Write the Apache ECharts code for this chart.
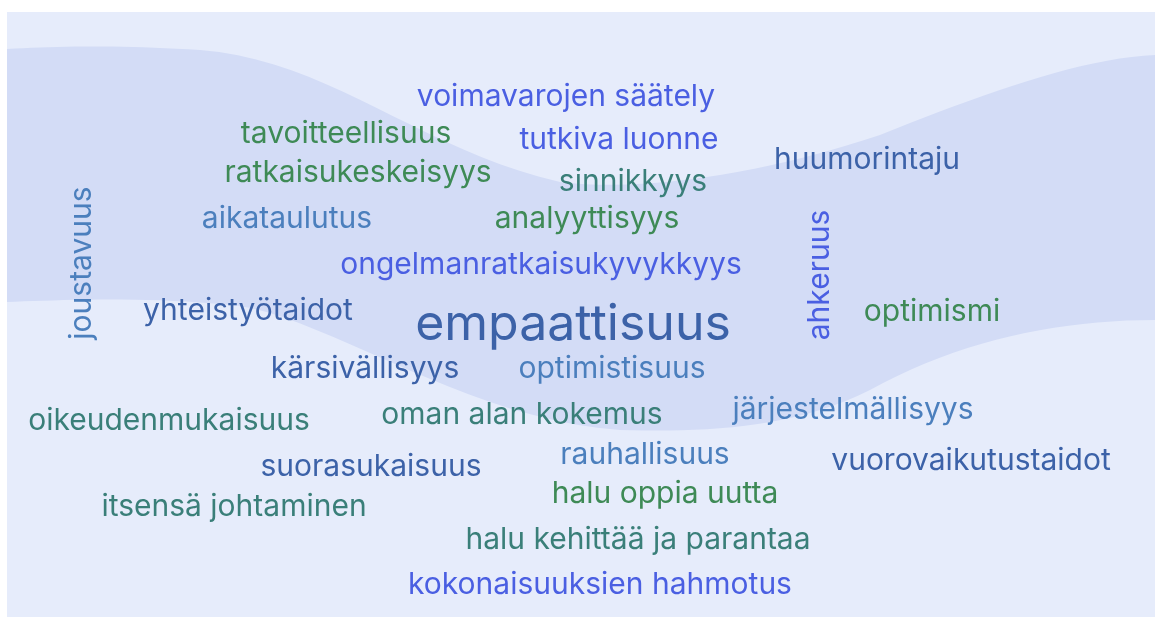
<!DOCTYPE html>
<html lang="fi">
<head>
<meta charset="UTF-8">
<title>Sanapilvi</title>
<script src="https://cdn.jsdelivr.net/npm/echarts@6/dist/echarts.min.js"></script>
<style>
  html, body { margin: 0; padding: 0; background: #fff; }
  #main { width: 1155px; height: 617px; }
</style>
</head>
<body>
<div id="main"></div>
<script>
// words and their weight (font size follows weight)
var words = [
  'voimavarojen säätely', 'tavoitteellisuus', 'tutkiva luonne', 'ratkaisukeskeisyys',
  'sinnikkyys', 'huumorintaju', 'joustavuus', 'aikataulutus', 'analyyttisyys',
  'ongelmanratkaisukyvykkyys', 'ahkeruus', 'yhteistyötaidot', 'empaattisuus',
  'optimismi', 'kärsivällisyys', 'optimistisuus', 'oikeudenmukaisuus',
  'oman alan kokemus', 'järjestelmällisyys', 'rauhallisuus', 'suorasukaisuus',
  'vuorovaikutustaidot', 'halu oppia uutta', 'itsensä johtaminen',
  'halu kehittää ja parantaa', 'kokonaisuuksien hahmotus'
];
var weights = [1, 1, 1, 1, 1, 1, 1, 1, 1, 1, 1, 1, 2, 1, 1, 1, 1, 1, 1, 1, 1, 1, 1, 1, 1, 1];
// colour group of each word
var groups = [0, 1, 0, 1, 2, 3, 4, 4, 1, 0, 0, 3, 3, 1, 3, 4, 2, 2, 4, 4, 3, 3, 1, 2, 2, 0];
// vertical words
var vertical = [0, 0, 0, 0, 0, 0, 1, 0, 0, 0, 1, 0, 0, 0, 0, 0, 0, 0, 0, 0, 0, 0, 0, 0, 0, 0];

// placement of the cloud (centre of each word)
var layoutX = [566, 346, 619, 358, 633, 867, 82, 287, 587, 541, 820, 248, 573,
  932, 365, 612, 169, 522, 853, 645, 371, 971, 665, 234, 638, 600];
var layoutY = [97, 134, 140, 173, 182, 160, 263, 219, 219, 265, 275, 311, 325,
  312, 369, 369, 421, 415, 410, 455, 467, 461, 494, 507, 540, 585];

var palette = ['#4a5fe2', '#3e8a56', '#3a7f79', '#3c62a8', '#4b7fbd'];

// background wave as cubic bezier segments, sampled to a polygon
function bez(p0, p1, p2, p3, pts) {
  for (var k = 1; k <= 20; k++) {
    var t = k / 20, u = 1 - t;
    pts.push([
      u * u * u * p0[0] + 3 * u * u * t * p1[0] + 3 * u * t * t * p2[0] + t * t * t * p3[0],
      u * u * u * p0[1] + 3 * u * u * t * p1[1] + 3 * u * t * t * p2[1] + t * t * t * p3[1]
    ]);
  }
}
var wave = [[7, 49]];
bez([7, 49], [60, 46], [120, 45], [200, 50], wave);
bez([200, 50], [330, 60], [420, 150], [560, 182], wave);
bez([560, 182], [640, 192], [760, 175], [880, 135], wave);
bez([880, 135], [980, 95], [1080, 58], [1155, 55], wave);
wave.push([1155, 320]);
bez([1155, 320], [1060, 320], [960, 340], [870, 390], wave);
bez([870, 390], [790, 430], [700, 432], [620, 430], wave);
bez([620, 430], [470, 420], [330, 320], [240, 306], wave);
bez([240, 306], [150, 296], [60, 300], [7, 302], wave);

var chart = echarts.init(document.getElementById('main'));

var data = words.map(function (w, i) {
  return {
    value: [layoutX[i], layoutY[i]],
    name: w,
    label: {
      fontSize: weights[i] === 2 ? 50 : 30,
      color: palette[groups[i]],
      rotate: vertical[i] ? 90 : 0
    }
  };
});

var option = {
  animation: false,
  graphic: [
    {
      type: 'rect', z: -10, silent: true,
      shape: { x: 7, y: 12, width: 1148, height: 605 },
      style: { fill: '#e6ecfb' }
    },
    {
      type: 'polygon', z: -9, silent: true,
      shape: { points: wave },
      style: { fill: '#d3dcf6' }
    }
  ],
  grid: { left: 0, right: 0, top: 0, bottom: 0 },
  xAxis: { type: 'value', min: 0, max: 1155, show: false },
  yAxis: { type: 'value', min: 0, max: 617, inverse: true, show: false },
  series: [{
    type: 'scatter',
    symbolSize: 0,
    itemStyle: { opacity: 1 },
    data: data,
    label: {
      show: true,
      position: 'inside',
      formatter: '{b}',
      fontFamily: 'Inter',
      fontWeight: 'normal'
    }
  }]
};

chart.setOption(option);
</script>
</body>
</html>
